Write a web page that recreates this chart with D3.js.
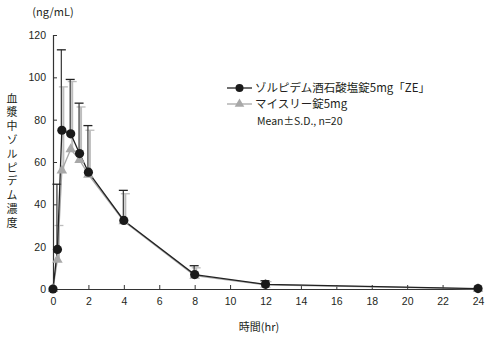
<!DOCTYPE html>
<html><head><meta charset="utf-8">
<script src="https://cdn.jsdelivr.net/npm/d3@7"></script>
<style>body{margin:0;background:#fff}svg{display:block;font-family:"Noto Sans CJK JP","Noto Sans",sans-serif}</style>
</head><body><svg id="c" width="490" height="337"></svg>
<script>
const times = [0, 0.25, 0.5, 1, 1.5, 2, 4, 8, 12, 24];
const zeMean = [0, 18.7, 75, 73.3, 64, 55.2, 32.4, 6.8, 2.2, 0.2];
const zeUpper = [0, 49.5, 113, 99, 87.8, 77.2, 46.6, 11, 3.9, 0.2];
const myMean = [0, 13.8, 56, 66, 61, 54, 32, 6.3, 2, 0.1];
const myUpper = [0, 30, 95.5, 98, 86, 75, 45, 10, 3.5, 0.1];
const xTicks = [0,2,4,6,8,10,12,14,16,18,20,22,24];
const yTicks = [0,20,40,60,80,100,120];
const seriesNames = ["ゾルピデム酒石酸塩錠5mg「ZE」", "マイスリー錠5mg"];
const noteText = "Mean±S.D., n=20";
const yTitle = "血漿中ゾルピデム濃度";
const yUnit = "(ng/mL)";
const xTitle = "時間(hr)";

const svg = d3.select("#c");
const x = d3.scaleLinear().domain([0,24]).range([53,478]);
const y = d3.scaleLinear().domain([0,120]).range([289,35]);
const txt = "#231f20";

// axes
const gx = svg.append("g").attr("transform",`translate(0,${y(0)})`)
  .call(d3.axisBottom(x).tickValues(xTicks).tickSize(-4).tickPadding(9));
const gy = svg.append("g").attr("transform",`translate(${x(0)},0)`)
  .call(d3.axisLeft(y).tickValues(yTicks).tickSize(-4).tickPadding(7));
[gx,gy].forEach(g=>{
  g.select(".domain").attr("stroke","#333").attr("stroke-width",1.2);
  g.selectAll(".tick line").attr("stroke","#333");
  g.selectAll(".tick text").attr("fill",txt).attr("font-size",10.5).attr("font-family","Liberation Sans, Arial, sans-serif");
});

// titles
svg.append("text").attr("x",53).attr("y",16).attr("text-anchor","middle").attr("font-size",11).attr("fill",txt).text(yUnit);
svg.append("text").attr("x",259).attr("y",331).attr("text-anchor","middle").attr("font-size",11).attr("fill",txt).text(xTitle);
svg.append("text").attr("x",12).attr("y",93)
  .style("writing-mode","vertical-rl").style("text-orientation","upright")
  .attr("letter-spacing",2.8).attr("font-size",11).attr("fill",txt).text(yTitle);

// error bars
const myData = times.map((t,i)=>({t, m:myMean[i], u:myUpper[i]}));
const zeData = times.map((t,i)=>({t, m:zeMean[i], u:zeUpper[i]}));
function bars(data, dx, lineCol, capCol, lw){
  const g = svg.append("g");
  data.filter(d=>d.u>d.m+0.5).forEach(d=>{
    const cx = x(d.t)+dx;
    g.append("line").attr("x1",cx).attr("x2",cx).attr("y1",y(d.m)).attr("y2",y(d.u)).attr("stroke",lineCol).attr("stroke-width",lw);
    g.append("line").attr("x1",cx-4.5).attr("x2",cx+4.5).attr("y1",y(d.u)).attr("y2",y(d.u)).attr("stroke",capCol).attr("stroke-width",1.3);
  });
}
bars(myData, 1.5, "#bdbdbd", "#bdbdbd", 2);
bars(zeData, -0.5, "#444", "#222", 1.3);

// lines
const line = d3.line().x(d=>x(d.t)).y(d=>y(d.m));
svg.append("path").datum(myData).attr("d",line).attr("fill","none").attr("stroke","#a8a8a8").attr("stroke-width",1.3);
svg.append("path").datum(zeData).attr("d",line).attr("fill","none").attr("stroke","#222").attr("stroke-width",1.3);

const tri = d3.symbol().type(d3.symbolTriangle).size(48);
svg.append("g").selectAll("path").data(myData).join("path")
  .attr("transform",d=>`translate(${x(d.t)},${y(d.m)})`).attr("d",tri).attr("fill","#a8a8a8");
svg.append("g").selectAll("circle").data(zeData).join("circle")
  .attr("cx",d=>x(d.t)).attr("cy",d=>y(d.m)).attr("r",4.6).attr("fill","#1a1a1a");

// legend
const lg = svg.append("g");
lg.append("line").attr("x1",227).attr("x2",252).attr("y1",88).attr("y2",88).attr("stroke","#222").attr("stroke-width",1.3);
lg.append("circle").attr("cx",239.5).attr("cy",88).attr("r",4).attr("fill","#1a1a1a");
lg.append("text").attr("x",255).attr("y",92).attr("font-size",11.5).attr("fill",txt).text(seriesNames[0]);
lg.append("line").attr("x1",227).attr("x2",252).attr("y1",104).attr("y2",104).attr("stroke","#a8a8a8").attr("stroke-width",1.3);
lg.append("path").attr("transform","translate(239.5,104)").attr("d",d3.symbol().type(d3.symbolTriangle).size(40)()).attr("fill","#a8a8a8");
lg.append("text").attr("x",255).attr("y",108).attr("font-size",11.5).attr("fill",txt).text(seriesNames[1]);
lg.append("text").attr("x",257).attr("y",125).attr("font-size",10.5).attr("fill",txt).text(noteText);
</script></body></html>
